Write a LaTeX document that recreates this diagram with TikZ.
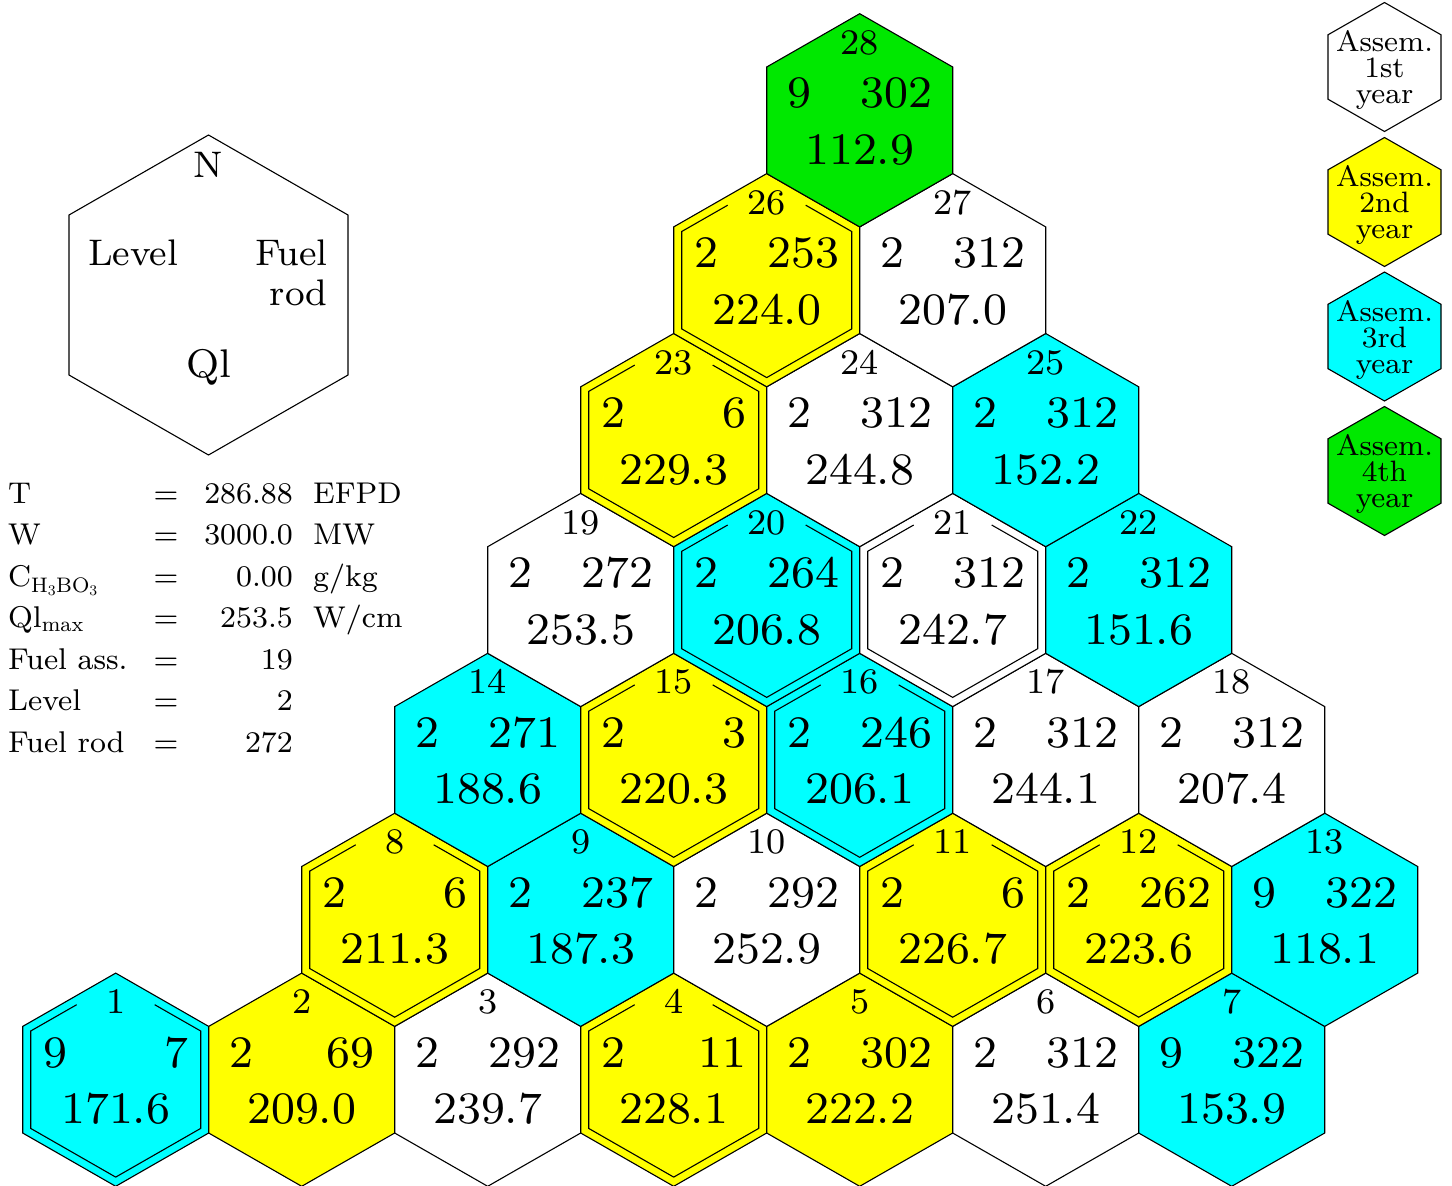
\documentclass[tikz,border=0pt]{standalone}
\usepackage{fontspec}
\setmainfont{lmroman8-regular}[Extension=.otf]
\usepackage{xcolor}
\usepackage{tikz}
\usetikzlibrary{positioning}
\definecolor{assOne}{RGB}{255,255,255}
\definecolor{assTwo}{RGB}{255,255,0}
\definecolor{assThree}{RGB}{0,255,255}
\definecolor{assFour}{RGB}{0,232,0}
\def\hexW{93}
\def\hexR{106.6}
\def\rowH{159.9}
\newcommand{\fuelhex}[8]{%
% #1 = number, #2 = column, #3 = row, #4 = colour
% #5 = level, #6 = fuel rod, #7 = Ql, #8 = border (1=single, 2=double)
\begin{scope}[shift={({115.7+\hexW*#2},{1079.7-\rowH*#3})}]
\filldraw[hexline, fill=#4]
(0,-\hexR) -- (\hexW,-0.5*\hexR) -- (\hexW,0.5*\hexR) -- (0,\hexR)
-- (-\hexW,0.5*\hexR) -- (-\hexW,-0.5*\hexR) -- cycle;

% inner border, open round the number
\ifnum#8=2
\draw[hexline]
(-39,-75) -- (-85,-48.7) -- (-85,48.7) -- (0,97.4)
-- (85,48.7) -- (85,-48.7) -- (39,-75);
\fi
\node[numfont, anchor=base] (n#1) at (0,-66) {#1};
\node[valfont, anchor=base west] (lv#1) at (-72.5,-12.5) {#5};
\node[valfont, anchor=base east] (fr#1) at (72.5,-12.5) {#6};
\node[valfont, anchor=base] (ql#1) at (0,44) {#7};
\end{scope}
}
\newcommand{\yearhex}[3]{%
% #1 = centre y, #2 = colour, #3 = year
\filldraw[hexline, fill=#2]
(1384.5,#1-64.5) -- (1441,#1-32.2) -- (1441,#1+32.2) -- (1384.5,#1+64.5)
-- (1328,#1+32.2) -- (1328,#1-32.2) -- cycle;
\node[yearfont] (year#3) at (1384.5,#1+3) {Assem.\\#3\\year};
}

\begin{document}
\begin{tikzpicture}[
    x=1pt, y=-1pt,
    every node/.style={inner sep=0pt},
    hexline/.style={draw=black, line width=1.1pt},
    numfont/.style={font=\fontsize{36}{40}\selectfont},
    valfont/.style={font=\fontsize{45}{48}\selectfont},
    keyfont/.style={font=\fontsize{37}{40}\selectfont},
    tabfont/.style={font=\fontsize{30}{32}\selectfont},
    yearfont/.style={align=center, font=\fontsize{29.5}{26}\selectfont}
]
\useasboundingbox (0,0) rectangle (1452,1186);

% key hexagon
\filldraw[hexline, fill=white]
(208.5,135) -- (348,215) -- (348,375) -- (208.5,455) -- (69,375) -- (69,215) -- cycle;
\node[keyfont, anchor=base] (keyN) at (208.5,177) {N};
\node[keyfont, anchor=base west] (keyLevel) at (88,265) {Level};
\node[keyfont, anchor=north east, align=right] (keyRod) at (328,239.3) {Fuel\\rod};
\node[font=\fontsize{40}{44}\selectfont, anchor=base] (keyQl) at (209,377) {Ql};

% data table
\foreach \lab/\val [count=\i] in {T/286.88, W/3000.0,
    C\textsubscript{H\textsubscript{3}BO\textsubscript{3}}/0.00,
    Ql\textsubscript{max}/253.5, Fuel ass./19, Level/2, Fuel rod/272}
{
\node[tabfont, anchor=base west] (lab\i) at (8,{503+41.5*(\i-1)}) {\lab};
\node[tabfont, anchor=base] (eq\i) at (166,{503+41.5*(\i-1)}) {=};
\node[tabfont, anchor=base east] (val\i) at (293,{503+41.5*(\i-1)}) {\val};
}
\foreach \unit [count=\i] in {EFPD, MW, {g/kg}, {W/cm}}
\node[tabfont, anchor=base west] (unit\i) at (313,{503+41.5*(\i-1)}) {\unit};

% year key
\yearhex{67}{assOne}{1st}
\yearhex{202}{assTwo}{2nd}
\yearhex{336.5}{assThree}{3rd}
\yearhex{471}{assFour}{4th}

% core map
\fuelhex{1}{0}{0}{assThree}{9}{7}{171.6}{2}
\fuelhex{2}{2}{0}{assTwo}{2}{69}{209.0}{1}
\fuelhex{3}{4}{0}{assOne}{2}{292}{239.7}{1}
\fuelhex{4}{6}{0}{assTwo}{2}{11}{228.1}{2}
\fuelhex{5}{8}{0}{assTwo}{2}{302}{222.2}{1}
\fuelhex{6}{10}{0}{assOne}{2}{312}{251.4}{1}
\fuelhex{7}{12}{0}{assThree}{9}{322}{153.9}{1}
\fuelhex{8}{3}{1}{assTwo}{2}{6}{211.3}{2}
\fuelhex{9}{5}{1}{assThree}{2}{237}{187.3}{1}
\fuelhex{10}{7}{1}{assOne}{2}{292}{252.9}{1}
\fuelhex{11}{9}{1}{assTwo}{2}{6}{226.7}{2}
\fuelhex{12}{11}{1}{assTwo}{2}{262}{223.6}{2}
\fuelhex{13}{13}{1}{assThree}{9}{322}{118.1}{1}
\fuelhex{14}{4}{2}{assThree}{2}{271}{188.6}{1}
\fuelhex{15}{6}{2}{assTwo}{2}{3}{220.3}{2}
\fuelhex{16}{8}{2}{assThree}{2}{246}{206.1}{2}
\fuelhex{17}{10}{2}{assOne}{2}{312}{244.1}{1}
\fuelhex{18}{12}{2}{assOne}{2}{312}{207.4}{1}
\fuelhex{19}{5}{3}{assOne}{2}{272}{253.5}{1}
\fuelhex{20}{7}{3}{assThree}{2}{264}{206.8}{2}
\fuelhex{21}{9}{3}{assOne}{2}{312}{242.7}{2}
\fuelhex{22}{11}{3}{assThree}{2}{312}{151.6}{1}
\fuelhex{23}{6}{4}{assTwo}{2}{6}{229.3}{2}
\fuelhex{24}{8}{4}{assOne}{2}{312}{244.8}{1}
\fuelhex{25}{10}{4}{assThree}{2}{312}{152.2}{1}
\fuelhex{26}{7}{5}{assTwo}{2}{253}{224.0}{2}
\fuelhex{27}{9}{5}{assOne}{2}{312}{207.0}{1}
\fuelhex{28}{8}{6}{assFour}{9}{302}{112.9}{1}
\end{tikzpicture}
\end{document}
